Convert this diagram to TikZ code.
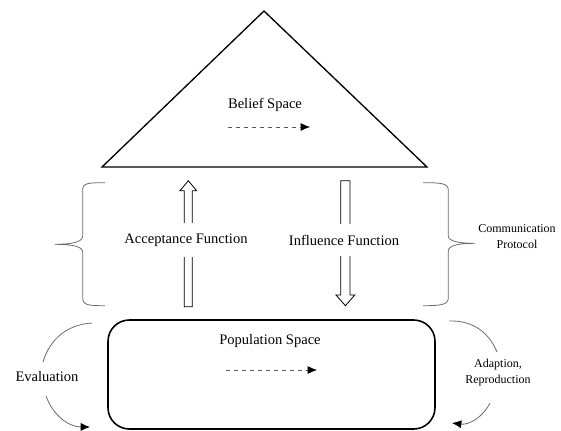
\documentclass[tikz,border=0pt]{standalone}
\usepackage{fontspec}
\setmainfont{Liberation Serif}
\usetikzlibrary{arrows.meta}
\begin{document}
\begin{tikzpicture}[x=0.75pt,y=-0.75pt,
    txt/.style={font=\fontsize{10.9}{13}\selectfont},
    small/.style={font=\fontsize{9}{12}\selectfont, align=center},
    brace/.style={draw=gray!85!black, line width=0.6pt},
    hollow/.style={draw, line width=0.6pt, line join=miter},
    flow/.style={dashed, draw=gray!70!black, line width=0.6pt, -{Latex[length=7pt,width=6pt,black]}},
    arc/.style={draw=gray!85!black, line width=0.6pt}]
    \useasboundingbox (0,0) rectangle (561,430);
    % belief space
    \draw[line width=1pt, line join=miter] (264,11) -- (427,167) -- (102,167) -- cycle;
    \node[txt] (belief) at (265,105) {Belief Space};
    \coordinate (bs-a) at (228,127);
    \coordinate (bs-b) at (310,127);
    \draw[flow] (bs-a) -- (bs-b);
    % population space
    \draw[line width=1.2pt, rounded corners=16pt] (108,320) rectangle (435,429);
    \node[txt] (pop) at (270,341) {Population Space};
    \coordinate (ps-a) at (226,370);
    \coordinate (ps-b) at (317,370);
    \draw[flow] (ps-a) -- (ps-b);
    % block arrows
    \draw[hollow] (184.3,306.7) -- (184.3,190.7) -- (180,190.7) -- (188.3,180.7)
        -- (196.6,190.7) -- (192.3,190.7) -- (192.3,306.7) -- cycle;
    \draw[hollow] (340.7,180.7) -- (340.7,295) -- (336,295) -- (345.4,305.7)
        -- (354.8,295) -- (350,295) -- (350,180.7) -- cycle;
    \node[txt, fill=white, inner ysep=8pt] (accept) at (186,240) {Acceptance Function};
    \node[txt, fill=white, inner ysep=8pt] (influence) at (344,240) {Influence Function};
    % braces
    \draw[brace] (105,182.7) .. controls (88,182.7) and (82.7,183) .. (82.7,190) -- (82.7,236)
        .. controls (82.7,242.5) and (70,244.3) .. (55,244.3)
        .. controls (70,244.3) and (82.7,246) .. (82.7,252) -- (82.7,298)
        .. controls (82.7,305) and (88,305.7) .. (105,305.7);
    \draw[brace] (423,182.7) .. controls (440,182.7) and (448.3,183) .. (448.3,190) -- (448.3,236)
        .. controls (448.3,241.5) and (460,243.3) .. (475,243.3)
        .. controls (460,243.3) and (448.3,245) .. (448.3,251) -- (448.3,298)
        .. controls (448.3,305) and (440,305.7) .. (423,305.7);
    \node[small] (protocol) at (517,237) {Communication\\Protocol};
    % evaluation
    \node[txt] (eval) at (47,377) {Evaluation};
    \coordinate (ev-a) at (92,323);
    \coordinate (ev-b) at (43,362);
    \coordinate (ev-c) at (46,396);
    \coordinate (ev-d) at (90,427);
    \draw[arc] (ev-a) to[bend right=35] (ev-b);
    \draw[arc, -{Latex[length=7pt,width=6pt,black]}] (ev-c) to[bend right=35] (ev-d);
    % adaption
    \node[small] (adapt) at (498,373) {Adaption,\\Reproduction};
    \coordinate (ad-a) at (449,321);
    \coordinate (ad-b) at (497,352);
    \coordinate (ad-c) at (490,403);
    \coordinate (ad-d) at (452,423);
    \draw[arc] (ad-a) to[bend left=35] (ad-b);
    \draw[arc, -{Latex[length=7pt,width=6pt,black]}] (ad-c) to[bend left=35] (ad-d);
\end{tikzpicture}
\end{document}
